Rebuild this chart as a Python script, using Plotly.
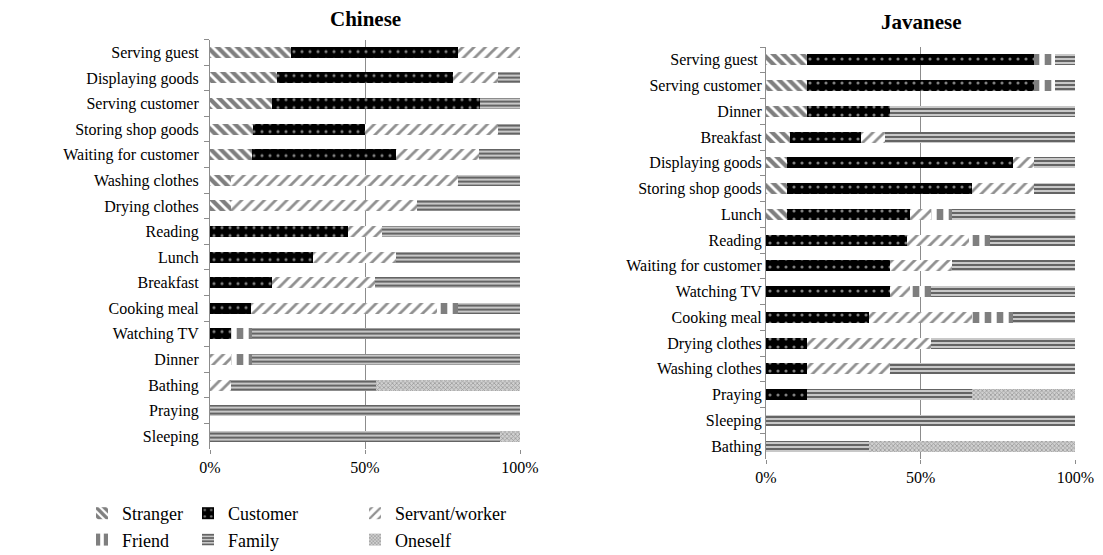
import plotly.graph_objects as go

# Activities, listed top to bottom as they appear on each panel
cats_cn = ["Serving guest", "Displaying goods", "Serving customer", "Storing shop goods",
           "Waiting for customer", "Washing clothes", "Drying clothes", "Reading", "Lunch",
           "Breakfast", "Cooking meal", "Watching TV", "Dinner", "Bathing", "Praying", "Sleeping"]
cats_jv = ["Serving guest ", "Serving customer", "Dinner", "Breakfast", "Displaying goods",
           "Storing shop goods", "Lunch", "Reading", "Waiting for customer", "Watching TV",
           "Cooking meal", "Drying clothes", "Washing clothes", "Praying", "Sleeping", "Bathing"]

# Share of each interaction partner (%), Chinese households
stranger_cn = [26, 21.5, 20, 14, 13.4, 6.7, 6.7, 0, 0, 0, 0, 0, 0, 0, 0, 0]
customer_cn = [54, 57, 67, 36, 46.6, 0, 0, 44.5, 33.3, 20, 13.3, 6.7, 0, 0, 0, 0]
servant_cn = [20, 14.5, 0, 43, 26.7, 73.3, 60, 11, 26.7, 33.3, 60, 0, 6.7, 6.7, 0, 0]
friend_cn = [0, 0, 0, 0, 0, 0, 0, 0, 0, 0, 6.7, 6.7, 6.7, 0, 0, 0]
family_cn = [0, 7, 13, 7, 13.3, 20, 33.3, 44.5, 40, 46.7, 20, 86.6, 86.6, 46.7, 100, 93.4]
oneself_cn = [0, 0, 0, 0, 0, 0, 0, 0, 0, 0, 0, 0, 0, 46.6, 0, 6.6]

# Share of each interaction partner (%), Javanese households
stranger_jv = [13.3, 13.3, 13.3, 7.7, 6.7, 6.7, 6.7, 0, 0, 0, 0, 0, 0, 0, 0, 0]
customer_jv = [73.3, 73.3, 26.7, 23.1, 73.3, 60, 40, 45.5, 40, 40, 33.3, 13.3, 13.3, 13.3, 0, 0]
servant_jv = [0, 0, 0, 7.7, 6.7, 20, 6.7, 20, 20, 6.7, 33.3, 40, 26.7, 0, 0, 0]
friend_jv = [6.7, 6.7, 0, 0, 0, 0, 6.7, 7, 0, 6.7, 13.3, 0, 0, 0, 0, 0]
family_jv = [6.7, 6.7, 60, 61.5, 13.3, 13.3, 40, 27.5, 40, 46.6, 20, 46.7, 60, 53.4, 100, 33.3]
oneself_jv = [0, 0, 0, 0, 0, 0, 0, 0, 0, 0, 0, 0, 0, 33.3, 0, 66.7]

x_ticks = [0, 50, 100]
x_tick_labels = ["0%", "50%", "100%"]

FONT = "Liberation Serif"

series = [
    ("Stranger", stranger_cn, stranger_jv,
     dict(color="white", pattern=dict(shape="\\", fgcolor="black", bgcolor="white", size=7, solidity=0.6)),
     "legend"),
    ("Customer", customer_cn, customer_jv,
     dict(color="black", pattern=dict(shape=".", fgcolor="white", bgcolor="black", size=8, solidity=0.12)),
     "legend2"),
    ("Servant/worker", servant_cn, servant_jv,
     dict(color="white", pattern=dict(shape="/", fgcolor="#222222", bgcolor="white", size=8, solidity=0.35)),
     "legend3"),
    ("Friend", friend_cn, friend_jv,
     dict(color="white", pattern=dict(shape="|", fgcolor="black", bgcolor="white", size=12, solidity=0.55)),
     "legend"),
    ("Family", family_cn, family_jv,
     dict(color="white", pattern=dict(shape="-", fgcolor="black", bgcolor="#c8c8c8", size=4, solidity=0.5)),
     "legend2"),
    ("Oneself", oneself_cn, oneself_jv,
     dict(color="#aaaaaa", pattern=dict(shape="x", fgcolor="#666666", bgcolor="#d0d0d0", size=3, solidity=0.45)),
     "legend3"),
]

fig = go.Figure()
for name, v_cn, v_jv, marker, leg in series:
    fig.add_trace(go.Bar(
        name=name, y=cats_cn, x=v_cn, orientation="h", marker=dict(marker, line=dict(width=0)),
        xaxis="x", yaxis="y", legendgroup=name, legend=leg, showlegend=True,
        hoverinfo="skip"))
    fig.add_trace(go.Bar(
        name=name, y=cats_jv, x=v_jv, orientation="h", marker=dict(marker, line=dict(width=0)),
        xaxis="x2", yaxis="y2", legendgroup=name, legend=leg, showlegend=False,
        hoverinfo="skip"))

W, H = 1103, 555


def px(x):
    return x / W


def py(y):
    return 1 - y / H


xaxis_common = dict(
    range=[0, 100], tickvals=x_ticks, ticktext=x_tick_labels, showgrid=True,
    gridcolor="#8c8c8c", gridwidth=1, zeroline=False, showline=False,
    ticks="outside", ticklen=4, tickcolor="#8c8c8c",
    tickfont=dict(family=FONT, size=16, color="black"), fixedrange=True,
)
yaxis_common = dict(
    autorange="reversed", showline=True, linecolor="#8c8c8c", linewidth=1,
    ticks="outside", tickson="boundaries", ticklen=5, tickcolor="#8c8c8c",
    tickfont=dict(family=FONT, size=16, color="black"), showgrid=False, fixedrange=True,
)

legend_common = dict(
    orientation="v", xanchor="left", yanchor="top", bgcolor="rgba(0,0,0,0)",
    font=dict(family=FONT, size=18, color="black"), tracegroupgap=0, itemwidth=30,
)

fig.update_layout(
    width=W, height=H, margin=dict(l=0, r=0, t=0, b=0, autoexpand=False),
    paper_bgcolor="white", plot_bgcolor="white", barmode="stack", bargap=0.57,
    xaxis=dict(xaxis_common, domain=[px(210), px(520)], anchor="y", ticklabelstandoff=0),
    yaxis=dict(yaxis_common, domain=[py(449), py(39.6)], anchor="x", ticklabelstandoff=7),
    xaxis2=dict(xaxis_common, domain=[px(766), px(1075.3)], anchor="y2", ticklabelstandoff=0),
    yaxis2=dict(yaxis_common, domain=[py(459), py(47)], anchor="x2"),
    legend=dict(legend_common, x=px(82), y=py(495)),
    legend2=dict(legend_common, x=px(188), y=py(495)),
    legend3=dict(legend_common, x=px(355), y=py(495)),
    annotations=[
        dict(text="<b>Chinese</b>", x=px(365), y=py(19), xref="paper", yref="paper",
             xanchor="center", yanchor="middle", showarrow=False,
             font=dict(family=FONT, size=21, color="black")),
        dict(text="<b>Javanese</b>", x=px(921), y=py(22), xref="paper", yref="paper",
             xanchor="center", yanchor="middle", showarrow=False,
             font=dict(family=FONT, size=21, color="black")),
    ],
    showlegend=True,
)

fig.write_html("out.html")
